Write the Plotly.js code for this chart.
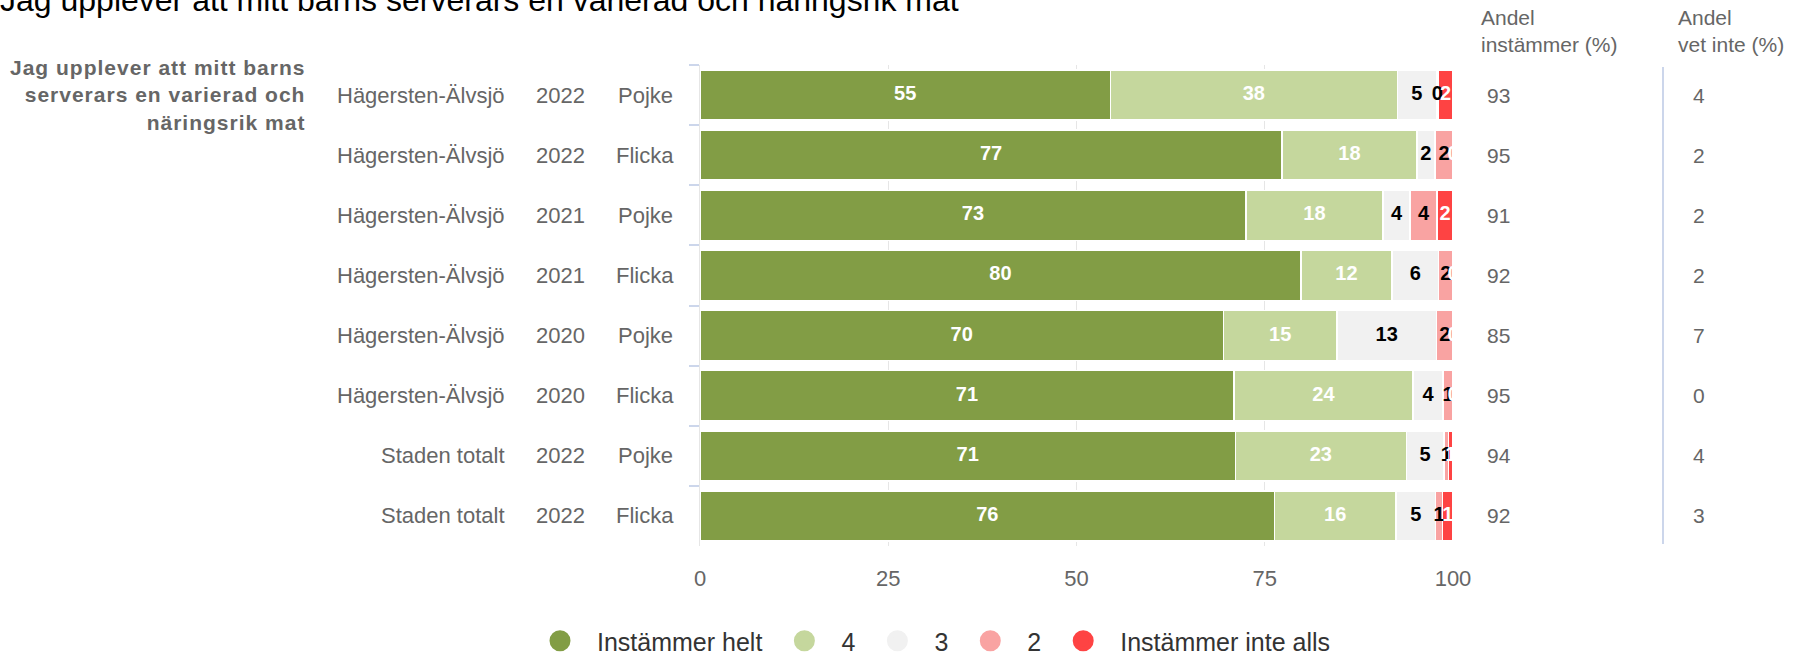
<!DOCTYPE html>
<html><head><meta charset="utf-8">
<script src="https://cdn.plot.ly/plotly-3.0.1.min.js"></script>
<style>
html,body{margin:0;padding:0;background:#fff}
g.annotation[data-index="40"] text{letter-spacing:1px}
</style>
</head><body>
<div id="chart" style="width:1815px;height:656px"></div>
<script>
// ---- data ----
const chartTitle = "Jag upplever att mitt barns serverars en varierad och näringsrik mat";
const questionLabel = "Jag upplever att mitt barns<br>serverars en varierad och<br>näringsrik mat";
const districts = ["Hägersten-Älvsjö","Hägersten-Älvsjö","Hägersten-Älvsjö","Hägersten-Älvsjö","Hägersten-Älvsjö","Hägersten-Älvsjö","Staden totalt","Staden totalt"];
const years = ["2022","2022","2021","2021","2020","2020","2022","2022"];
const genders = ["Pojke","Flicka","Pojke","Flicka","Pojke","Flicka","Pojke","Flicka"];
const seriesNames = ["Instämmer helt","4","3","2","Instämmer inte alls"];
const instammerHelt = [54.5, 77.3, 72.5, 79.8, 69.5, 70.9, 71.1, 76.3];
const svar4 = [38.1, 17.9, 18.2, 12.1, 15.1, 23.8, 22.7, 16.1];
const svar3 = [5.2, 2.4, 3.6, 6.2, 13.2, 4.0, 5.0, 5.3];
const svar2 = [0.2, 2.4, 3.6, 1.9, 2.2, 1.3, 0.6, 0.9];
const instammerInteAlls = [2.0, 0, 2.1, 0, 0, 0, 0.6, 1.4];
const andelInstammer = [93, 95, 91, 92, 85, 95, 94, 92];
const andelVetInte = [4, 2, 2, 2, 7, 0, 4, 3];
const headerInstammer = "Andel<br>instämmer (%)";
const headerVetInte = "Andel<br>vet inte (%)";
const xTickVals = [0, 25, 50, 75, 100];

// ---- styling ----
const FONT = "Liberation Sans, Arial, sans-serif";
const colors = ["#829d45", "#c5d79d", "#f1f1f1", "#f9a3a2", "#fe4343"];
const labelColors = ["#ffffff", "#ffffff", "#000000", "#000000", "#ffffff"];
const grey = "#666666";

const series = [instammerHelt, svar4, svar3, svar2, instammerInteAlls];
const rowKeys = districts.map((d, i) => d + " " + years[i] + " " + genders[i]);

const traces = [];
series.forEach((vals, k) => {
  traces.push({
    type: "bar", orientation: "h", x: vals, y: rowKeys, name: seriesNames[k],
    legendgroup: "g" + k, showlegend: false,
    marker: {color: colors[k], line: {color: "#ffffff", width: 1.5}},
    hoverinfo: "x+name"
  });
});
// value labels
const tx = [], ty = [], tt = [], tc = [];
series.forEach((vals, k) => {
  vals.forEach((v, i) => {
    let start = 0;
    for (let j = 0; j < k; j++) start += series[j][i];
    tx.push(start + v / 2); ty.push(rowKeys[i]); tt.push(String(Math.round(v))); tc.push(labelColors[k]);
  });
});
traces.push({
  type: "scatter", mode: "text", x: tx, y: ty, text: tt, cliponaxis: true,
  textfont: {family: FONT, size: 20, weight: "bold", color: tc},
  hoverinfo: "skip", showlegend: false
});
// legend entries (circles)
seriesNames.forEach((n, k) => {
  traces.push({
    type: "scatter", mode: "markers", x: [null], y: [null], name: n, legendgroup: "g" + k,
    marker: {symbol: "circle", size: 16, color: colors[k], line: {color: colors[k], width: 5}},
    showlegend: true, hoverinfo: "skip"
  });
});

const L = 700, R = 362, T = 65, B = 110;
const plotW = 1815 - L - R, plotH = 656 - T - B;
const px = p => (p - L) / plotW;
const py = p => 1 - (p - T) / plotH;

const annotations = [];
rowKeys.forEach((key, i) => {
  annotations.push({xref: "paper", yref: "y", x: px(507), y: key, xanchor: "right", yanchor: "middle",
    text: districts[i], showarrow: false, font: {family: FONT, size: 22, color: grey}});
  annotations.push({xref: "paper", yref: "y", x: px(560), y: key, xanchor: "center", yanchor: "middle",
    text: years[i], showarrow: false, font: {family: FONT, size: 22, color: grey}});
  annotations.push({xref: "paper", yref: "y", x: px(645), y: key, xanchor: "center", yanchor: "middle",
    text: genders[i], showarrow: false, font: {family: FONT, size: 22, color: grey}});
  annotations.push({xref: "paper", yref: "y", x: px(1485), y: key, xanchor: "left", yanchor: "middle",
    text: String(andelInstammer[i]), showarrow: false, font: {family: FONT, size: 21, color: grey}});
  annotations.push({xref: "paper", yref: "y", x: px(1699), y: key, xanchor: "center", yanchor: "middle",
    text: String(andelVetInte[i]), showarrow: false, font: {family: FONT, size: 21, color: grey}});
});
annotations.push({xref: "paper", yref: "y", x: px(307), y: rowKeys[0], xanchor: "right", yanchor: "middle",
  align: "right", text: questionLabel, showarrow: false, font: {family: FONT, size: 21, weight: "bold", color: grey}});
annotations.push({xref: "paper", yref: "paper", x: px(1479), y: py(31), xanchor: "left", yanchor: "middle",
  align: "left", text: headerInstammer, showarrow: false, font: {family: FONT, size: 21, color: grey}});
annotations.push({xref: "paper", yref: "paper", x: px(1676), y: py(31), xanchor: "left", yanchor: "middle",
  align: "left", text: headerVetInte, showarrow: false, font: {family: FONT, size: 21, color: grey}});

const layout = {
  width: 1815, height: 656,
  margin: {l: L, r: R, t: T, b: B, pad: 0, autoexpand: false},
  paper_bgcolor: "#ffffff", plot_bgcolor: "#ffffff",
  font: {family: FONT, color: grey},
  title: {text: chartTitle, x: 0, xref: "container", xanchor: "left", y: 1, yref: "container",
    yanchor: "middle", pad: {l: 0, t: 0, b: 0}, font: {family: FONT, size: 32, color: "#000000"}},
  barmode: "stack", bargap: 0.17,
  xaxis: {range: [0, 100], autorange: false, tickvals: xTickVals, ticks: "", showgrid: true, gridcolor: "#e6e6e6", gridwidth: 1,
    zeroline: false, showline: false, fixedrange: true, ticklabelstandoff: 17,
    tickfont: {family: FONT, size: 22, color: grey}},
  yaxis: {type: "category", categoryorder: "array", categoryarray: rowKeys, autorange: false,
    range: [rowKeys.length - 0.5, -0.5],
    showticklabels: false, ticks: "outside", tickson: "boundaries", ticklen: 10, tickwidth: 2,
    tickcolor: "#ccd6eb", showline: true, linecolor: "#e6e6e6", linewidth: 1, showgrid: false, zeroline: false, fixedrange: true},
  legend: {orientation: "h", x: px(523), xanchor: "left", y: py(641), yanchor: "middle", itemwidth: 64,
    font: {family: FONT, size: 25, color: "#333333"}, bgcolor: "rgba(0,0,0,0)", traceorder: "normal", itemclick: false},
  shapes: [{type: "line", xref: "paper", yref: "paper", x0: px(1663), x1: px(1663), y0: py(544), y1: py(67),
    line: {color: "#ccd6eb", width: 2}}],
  annotations: annotations,
  showlegend: true
};

Plotly.newPlot("chart", traces, layout, {displayModeBar: false});
</script>
</body></html>
